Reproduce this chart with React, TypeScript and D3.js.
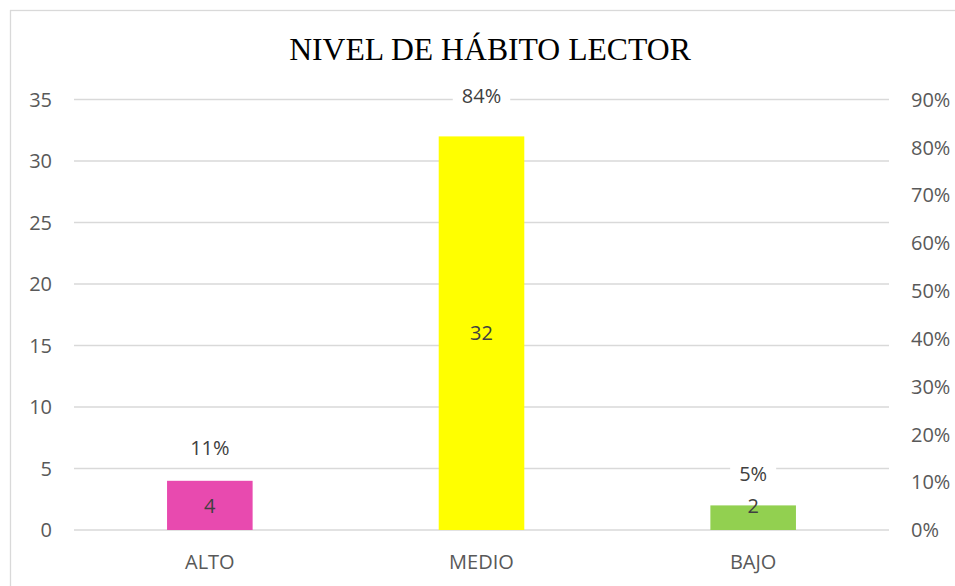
import React from "react";
import * as d3 from "d3";

const title = "NIVEL DE HÁBITO LECTOR";
const categories = ["ALTO", "MEDIO", "BAJO"];
const counts = [4, 32, 2];
const percents = [0.1053, 0.8421, 0.0526];
const barColors = ["#E84AAF", "#FFFF00", "#92D050"];
const leftTicks = [0, 5, 10, 15, 20, 25, 30, 35];
const rightTicks = [0, 0.1, 0.2, 0.3, 0.4, 0.5, 0.6, 0.7, 0.8, 0.9];

const W = 955;
const H = 586;
const plot = { left: 74, right: 889, top: 99.5, bottom: 530 };
const sans = "'Open Sans', 'Noto Sans', sans-serif";
const axisColor = "#595959";
const labelColor = "#404040";
const grid = "#D9D9D9";

export default function App() {
  const x = d3
    .scaleBand<string>()
    .domain(categories)
    .range([plot.left, plot.right])
    .paddingInner(0.685)
    .paddingOuter(0.3425);
  const yL = d3.scaleLinear().domain([0, 35]).range([plot.bottom, plot.top]);
  const yR = d3.scaleLinear().domain([0, 0.9]).range([plot.bottom, plot.top]);
  const pct = d3.format(".0%");
  const fs = 20;

  return (
    <svg
      width={W}
      height={H}
      style={{ position: "absolute", left: 0, top: 0, display: "block", background: "#fff" }}
    >
      <rect x={0} y={0} width={W} height={H} fill="#fff" />
      <rect x={10.5} y={10.5} width={W + 20} height={H + 20} fill="#fff" stroke={grid} strokeWidth={1.3} />
      <text
        x={490}
        y={60}
        textAnchor="middle"
        fontFamily="'Liberation Serif', 'Times New Roman', serif"
        fontSize={31.7}
        fill="#000"
      >
        {title}
      </text>
      {leftTicks.map((t) => (
        <line key={"g" + t} x1={plot.left} x2={plot.right} y1={yL(t)} y2={yL(t)} stroke={grid} strokeWidth={1.3} />
      ))}
      {leftTicks.map((t) => (
        <text key={"l" + t} x={52} y={yL(t)} dy="0.36em" textAnchor="end" fontFamily={sans} fontSize={fs} fill={axisColor}>
          {t}
        </text>
      ))}
      {rightTicks.map((t) => (
        <text key={"r" + t} x={911} y={yR(t)} dy="0.36em" textAnchor="start" fontFamily={sans} fontSize={fs} fill={axisColor}>
          {pct(t)}
        </text>
      ))}
      {categories.map((c, i) => {
        const bx = x(c)!;
        const top = yL(counts[i]);
        return (
          <rect key={"b" + c} x={bx} y={top} width={x.bandwidth()} height={plot.bottom - top} fill={barColors[i]} />
        );
      })}
      {categories.map((c) => (
        <text
          key={"c" + c}
          x={x(c)! + x.bandwidth() / 2}
          y={562}
          dy="0.36em"
          textAnchor="middle"
          fontFamily={sans}
          fontSize={fs}
          fill={axisColor}
        >
          {c}
        </text>
      ))}
      {categories.map((c, i) => {
        const cx = x(c)! + x.bandwidth() / 2;
        const py = yR(percents[i]) - 31.5;
        const label = pct(percents[i]);
        const tw = label.length * 11.5 + 6;
        return (
          <g key={"p" + c}>
            <rect x={cx - tw / 2 - 8.5} y={py - 14} width={tw + 17} height={28} fill="#fff" />
            <text x={cx} y={py} dy="0.36em" textAnchor="middle" fontFamily={sans} fontSize={fs} fill={labelColor}>
              {label}
            </text>
          </g>
        );
      })}
      {categories.map((c, i) => {
        const cx = x(c)! + x.bandwidth() / 2;
        const top = yL(counts[i]);
        const vy = Math.min((top + plot.bottom) / 2, plot.bottom - 24);
        return (
          <text key={"v" + c} x={cx} y={vy} dy="0.36em" textAnchor="middle" fontFamily={sans} fontSize={fs} fill={labelColor}>
            {counts[i]}
          </text>
        );
      })}
    </svg>
  );
}
